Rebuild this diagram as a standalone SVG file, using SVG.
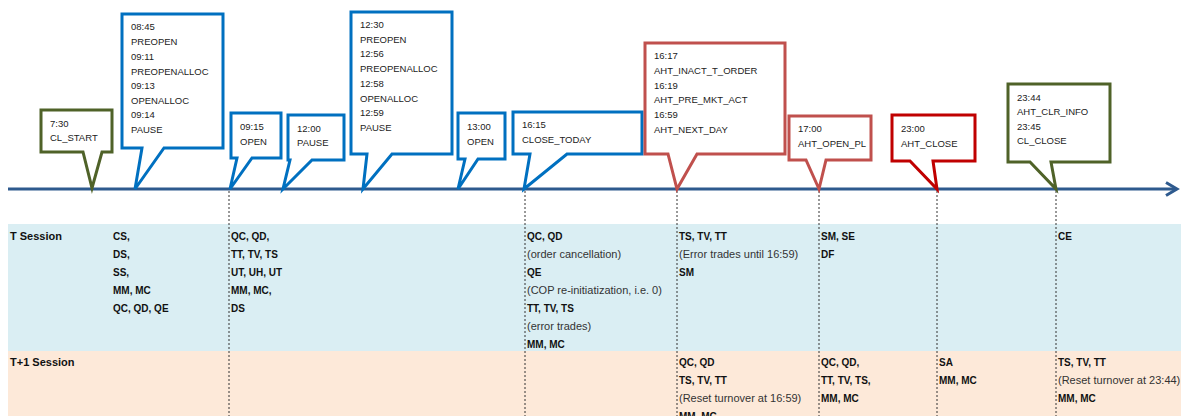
<svg xmlns="http://www.w3.org/2000/svg" width="1181" height="416" viewBox="0 0 1181 416">
<style>
.co{fill:#fff;stroke-width:3;stroke-linejoin:miter}
.blue{stroke:#0070C0}
.red{stroke:#C0504D}
.dred{stroke:#C00000}
.green{stroke:#4F6228}
.ct{font-family:"Liberation Sans",Arial,sans-serif;font-size:9.5px;fill:#222}
.hd{font-family:"Liberation Sans",Arial,sans-serif;font-size:11px;font-weight:bold;fill:#111}
.b{font-family:"Liberation Sans",Arial,sans-serif;font-size:10px;font-weight:bold;fill:#111}
.g{font-family:"Liberation Sans",Arial,sans-serif;font-size:11px;fill:#333}
.dash{stroke:#333;stroke-width:1;stroke-dasharray:2,2}
</style>
<rect x="0" y="0" width="1181" height="416" fill="#fff"/>
<g id="bands">
<rect x="8" y="224" width="1173" height="127" fill="#DAEEF3"/>
<rect x="8" y="351" width="1173" height="65" fill="#FDE9D9"/>
</g>
<g id="connectors">
<line x1="8" y1="189" x2="1176" y2="189" stroke="#2E5A8E" stroke-width="3"/>
<polyline points="1166,182.5 1177,189 1166,195.5" fill="none" stroke="#2E5A8E" stroke-width="3"/>
<line class="dash" x1="229" y1="191" x2="229" y2="416"/>
<line class="dash" x1="525" y1="191" x2="525" y2="416"/>
<line class="dash" x1="677" y1="191" x2="677" y2="416"/>
<line class="dash" x1="819" y1="191" x2="819" y2="416"/>
<line class="dash" x1="937" y1="191" x2="937" y2="416"/>
<line class="dash" x1="1056" y1="191" x2="1056" y2="416"/>
</g>
<g id="n-cl-start">
<path class="co green" d="M41,110 H112 V152 H102 L92,188 L83,152 H41 Z"/>
<text class="ct" x="50" y="127">7:30</text>
<text class="ct" x="50" y="141">CL_START</text>
</g>
<g id="n-0845">
<path class="co blue" d="M122,14 H223 V148 H164 L135,189 L142,148 H122 Z"/>
<text class="ct" x="131" y="30">08:45</text>
<text class="ct" x="131" y="45">PREOPEN</text>
<text class="ct" x="131" y="60">09:11</text>
<text class="ct" x="131" y="75">PREOPENALLOC</text>
<text class="ct" x="131" y="89">09:13</text>
<text class="ct" x="131" y="104">OPENALLOC</text>
<text class="ct" x="131" y="118">09:14</text>
<text class="ct" x="131" y="133">PAUSE</text>
</g>
<g id="n-0915">
<path class="co blue" d="M231,113 H281 V158 H252 L230,189 L237,158 H231 Z"/>
<text class="ct" x="240" y="130">09:15</text>
<text class="ct" x="240" y="145">OPEN</text>
</g>
<g id="n-1200">
<path class="co blue" d="M288,115 H344 V160 H312 L283,189 L290,160 H288 Z"/>
<text class="ct" x="297" y="132">12:00</text>
<text class="ct" x="297" y="146">PAUSE</text>
</g>
<g id="n-1230">
<path class="co blue" d="M351,12 H452 V154 H392 L363,189 L367,154 H351 Z"/>
<text class="ct" x="360" y="28">12:30</text>
<text class="ct" x="360" y="43">PREOPEN</text>
<text class="ct" x="360" y="57">12:56</text>
<text class="ct" x="360" y="72">PREOPENALLOC</text>
<text class="ct" x="360" y="87">12:58</text>
<text class="ct" x="360" y="102">OPENALLOC</text>
<text class="ct" x="360" y="116">12:59</text>
<text class="ct" x="360" y="131">PAUSE</text>
</g>
<g id="n-1300">
<path class="co blue" d="M458,113 H505 V159 H478 L458,189 L465,159 H458 Z"/>
<text class="ct" x="467" y="130">13:00</text>
<text class="ct" x="467" y="145">OPEN</text>
</g>
<g id="n-1615">
<path class="co blue" d="M513,112 H642 V154 H567 L524,189 L530,154 H513 Z"/>
<text class="ct" x="522" y="128">16:15</text>
<text class="ct" x="522" y="143">CLOSE_TODAY</text>
</g>
<g id="n-1617">
<path class="co red" d="M645,43 H785 V154 H697 L677,189 L668,154 H645 Z"/>
<text class="ct" x="654" y="59">16:17</text>
<text class="ct" x="654" y="74">AHT_INACT_T_ORDER</text>
<text class="ct" x="654" y="89">16:19</text>
<text class="ct" x="654" y="103">AHT_PRE_MKT_ACT</text>
<text class="ct" x="654" y="118">16:59</text>
<text class="ct" x="654" y="133">AHT_NEXT_DAY</text>
</g>
<g id="n-1700">
<path class="co red" d="M789,116 H871 V160 H826 L819,189 L806,160 H789 Z"/>
<text class="ct" x="798" y="132">17:00</text>
<text class="ct" x="798" y="147">AHT_OPEN_PL</text>
</g>
<g id="n-2300">
<path class="co dred" d="M892,115 H975 V161 H933 L937,189 L910,161 H892 Z"/>
<text class="ct" x="901" y="132">23:00</text>
<text class="ct" x="901" y="147">AHT_CLOSE</text>
</g>
<g id="n-2344">
<path class="co green" d="M1008,84 H1110 V162 H1051 L1056,189 L1030,162 H1008 Z"/>
<text class="ct" x="1017" y="101">23:44</text>
<text class="ct" x="1017" y="115">AHT_CLR_INFO</text>
<text class="ct" x="1017" y="130">23:45</text>
<text class="ct" x="1017" y="144">CL_CLOSE</text>
</g>
<g id="table">
<text class="hd" x="10" y="240">T Session</text>
<text class="hd" x="10" y="366">T+1 Session</text>
<text class="b" x="113" y="240">CS,</text>
<text class="b" x="113" y="258">DS,</text>
<text class="b" x="113" y="276">SS,</text>
<text class="b" x="113" y="294">MM, MC</text>
<text class="b" x="113" y="312">QC, QD, QE</text>
<text class="b" x="231" y="240">QC, QD,</text>
<text class="b" x="231" y="258">TT, TV, TS</text>
<text class="b" x="231" y="276">UT, UH, UT</text>
<text class="b" x="231" y="294">MM, MC,</text>
<text class="b" x="231" y="312">DS</text>
<text class="b" x="527" y="240">QC, QD</text>
<text class="g" x="527" y="258">(order cancellation)</text>
<text class="b" x="527" y="276">QE</text>
<text class="g" x="527" y="294">(COP re-initiatization, i.e. 0)</text>
<text class="b" x="527" y="312">TT, TV, TS</text>
<text class="g" x="527" y="330">(error trades)</text>
<text class="b" x="527" y="348">MM, MC</text>
<text class="b" x="679" y="240">TS, TV, TT</text>
<text class="g" x="679" y="258">(Error trades until 16:59)</text>
<text class="b" x="679" y="276">SM</text>
<text class="b" x="679" y="366">QC, QD</text>
<text class="b" x="679" y="384">TS, TV, TT</text>
<text class="g" x="679" y="402">(Reset turnover at 16:59)</text>
<text class="b" x="679" y="420">MM, MC</text>
<text class="b" x="821" y="240">SM, SE</text>
<text class="b" x="821" y="258">DF</text>
<text class="b" x="821" y="366">QC, QD,</text>
<text class="b" x="821" y="384">TT, TV, TS,</text>
<text class="b" x="821" y="402">MM, MC</text>
<text class="b" x="939" y="366">SA</text>
<text class="b" x="939" y="384">MM, MC</text>
<text class="b" x="1058" y="240">CE</text>
<text class="b" x="1058" y="366">TS, TV, TT</text>
<text class="g" x="1058" y="384">(Reset turnover at 23:44)</text>
<text class="b" x="1058" y="402">MM, MC</text>
</g>
</svg>
